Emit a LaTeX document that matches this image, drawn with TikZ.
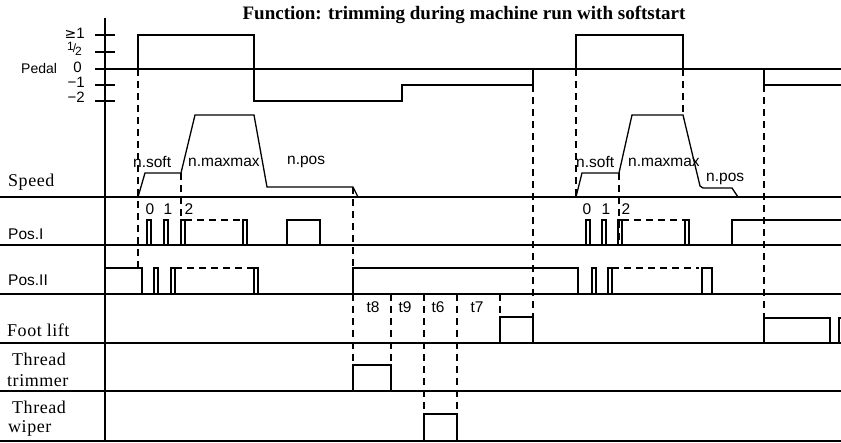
\documentclass[tikz,border=0pt]{standalone}
\usepackage{fontspec}
\setmainfont{Liberation Serif}
\newfontfamily\lsans{Liberation Sans}
\newfontfamily\lserif[LetterSpace=3]{Liberation Serif}
\newfontfamily\dsans{DejaVu Sans}
\begin{document}
\begin{tikzpicture}[x=1pt,y=-1pt,
  sig/.style={line width=1.3pt,line join=miter},
  gridl/.style={line width=1.2pt},
  dsh/.style={line width=1.2pt,dash pattern=on 7pt off 5pt},
  sl/.style={font=\lsans\fontsize{15.5}{16}\selectfont,inner sep=0pt},
  tl/.style={font=\lsans\fontsize{15}{15}\selectfont,inner sep=0pt,anchor=east},
  rl/.style={font=\lserif\fontsize{18}{18}\selectfont,inner sep=0pt,anchor=west},
  pulse/.style={sig}]
\useasboundingbox (0,0) rectangle (841,442);
% title
\node[font=\bfseries\fontsize{19}{19}\selectfont,inner sep=0pt] (title) at (464,15) {Function: trimming during machine run with softstart};
% axis and grid
\draw[gridl] (105,18) -- (105,442);
\foreach \yy in {35,52,85,101} \draw[gridl] (95,\yy) -- (115,\yy);
\draw[gridl] (95,69) -- (841,69);
\foreach \yy in {197,245,294,343,391,441} \draw[gridl] (0,\yy) -- (841,\yy);
% left labels
\node[sl,anchor=west,font=\lsans\fontsize{14}{14}\selectfont] (pedal) at (21,68) {Pedal};
\node[tl] (t1) at (85,33) {{\dsans\fontsize{14}{14}\selectfont ≥}1};
\node[tl] (th) at (82,48.5) {\fontsize{12}{12}\selectfont\raisebox{2.5pt}{1}\kern-1pt/\kern-1pt\raisebox{-2.5pt}{2}};
\node[tl] (t0) at (82,67) {0};
\node[tl] (tm1) at (85,82) {−1};
\node[tl] (tm2) at (85,97) {−2};
\node[rl] (speed) at (8,182) {Speed};
\node[sl,anchor=west] (posi) at (8,234) {Pos.I};
\node[sl,anchor=west] (posii) at (8,280) {Pos.II};
\node[rl] (foot) at (7,330) {Foot lift};
\node[rl] (thr1) at (12,359) {Thread};
\node[rl] (thr2) at (7,381) {trimmer};
\node[rl] (wip1) at (12,407) {Thread};
\node[rl] (wip2) at (8,428) {wiper};
% pedal signal
\draw[sig] (138,69) -- (138,35) -- (254,35) -- (254,101) -- (402,101) -- (402,85) -- (533,85) -- (533,69);
\draw[sig] (576,69) -- (576,35) -- (683,35) -- (683,69);
\draw[sig] (764,69) -- (764,85) -- (841,85);
% speed
\draw[sig] (138,197) -- (145,173) -- (181,173) -- (195,115) -- (254,115) -- (267,187) -- (353,187) -- (358,197);
\draw[sig] (576,197) -- (582,173) -- (619,173) -- (632,115) -- (683,115) -- (700,186) -- (703,188) -- (732,188) -- (738,197);
\node[sl,anchor=west] (ns1) at (133,162) {n.soft};
\node[sl,anchor=west] (nm1) at (188,162) {n.maxmax};
\node[sl,anchor=west] (np1) at (287,162) {n.pos};
\node[sl,anchor=west] (ns2) at (576,162) {n.soft};
\node[sl,anchor=west] (nm2) at (628,162) {n.maxmax};
\node[sl,anchor=west] (np2) at (706,179) {n.pos};
% Pos.I
\foreach \a/\b in {147/151,164/168,181/185,243/247,287/320,586/590,602/606,618/622,685/689}
  \draw[pulse] (\a,245) -- (\a,220) -- (\b,220) -- (\b,245);
\draw[dsh] (185,220) -- (243,220);
\draw[dsh] (622,220) -- (685,220);
\draw[sig] (732,245) -- (732,220) -- (841,220);
\node[sl] (p0a) at (150,209) {0};
\node[sl] (p1a) at (168,209) {1};
\node[sl] (p2a) at (189,209) {2};
\node[sl] (p0b) at (587,209) {0};
\node[sl] (p1b) at (606,209) {1};
\node[sl] (p2b) at (626,209) {2};
% Pos.II
\draw[sig] (105,268) -- (142,268) -- (142,294);
\foreach \a/\b in {154/158,171/175,254/258,592/596,608/612,702/712}
  \draw[pulse] (\a,294) -- (\a,268) -- (\b,268) -- (\b,294);
\draw[dsh] (175,268) -- (254,268);
\draw[dsh] (612,268) -- (699,268);
\draw[sig] (353,294) -- (353,268) -- (578,268) -- (578,294);
% Foot lift
\draw[sig] (500,343) -- (500,317) -- (533,317) -- (533,343);
\draw[sig] (764,343) -- (764,318) -- (830,318) -- (830,343);
\draw[sig] (839,343) -- (839,318) -- (841,318);
% thread trimmer / wiper
\draw[sig] (353,391) -- (353,365) -- (391,365) -- (391,391);
\draw[sig] (424,441) -- (424,414) -- (457,414) -- (457,441);
% dashed verticals
\draw[dsh] (138,69) -- (138,268);
\draw[dsh] (181,173) -- (181,245);
\draw[dsh] (353,187) -- (353,268);
\draw[dsh] (353,294) -- (353,365);
\draw[dsh] (391,294) -- (391,365);
\draw[dsh] (424,294) -- (424,414);
\draw[dsh] (457,294) -- (457,414);
\draw[dsh] (500,294) -- (500,317);
\draw[dsh] (533,85) -- (533,317);
\draw[dsh] (576,69) -- (576,197);
\draw[dsh] (619,173) -- (619,245);
\draw[dsh] (683,69) -- (683,115);
\draw[dsh] (764,85) -- (764,318);
% time labels
\node[sl] (t8) at (373,307) {t8};
\node[sl] (t9) at (405,307) {t9};
\node[sl] (t6) at (438,307) {t6};
\node[sl] (t7) at (477,307) {t7};
\end{tikzpicture}
\end{document}
